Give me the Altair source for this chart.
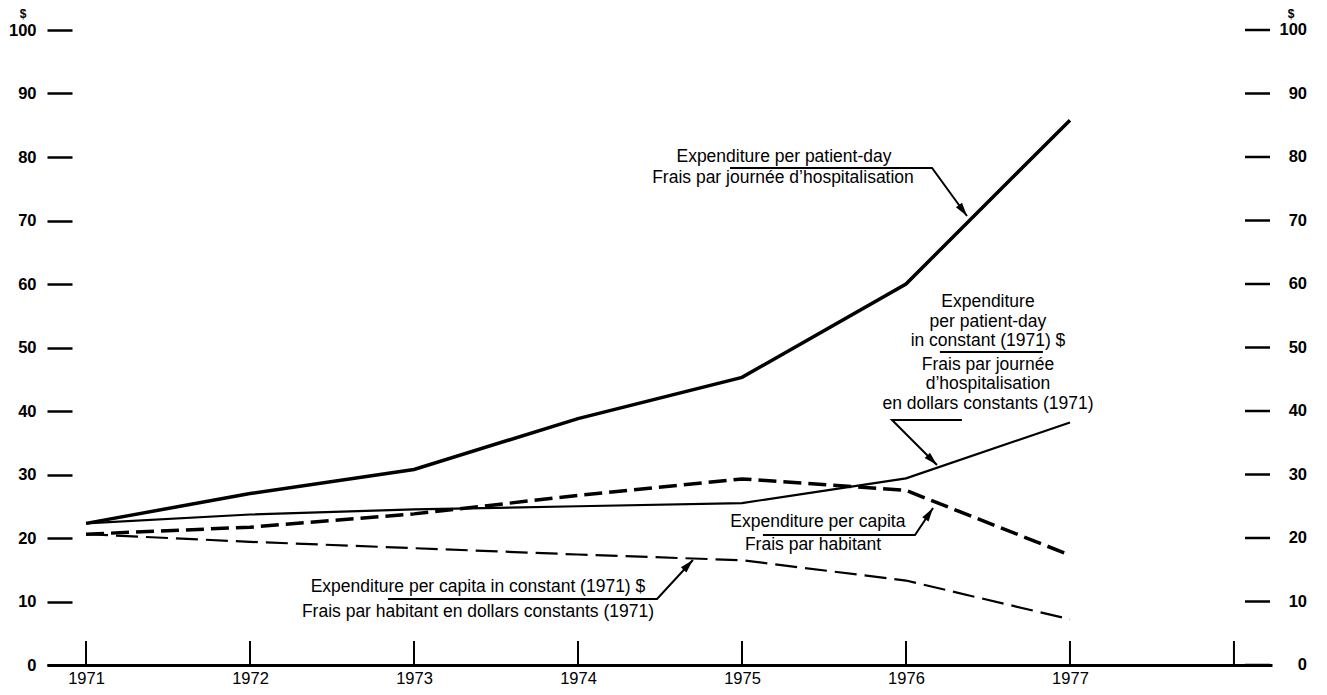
import altair as alt
import pandas as pd

# ---------------- data ----------------
years = [1971, 1972, 1973, 1974, 1975, 1976, 1977]
patient_day = [22.3, 27.0, 30.8, 38.8, 45.3, 60.0, 85.8]
patient_day_const = [22.3, 23.7, 24.5, 25.0, 25.5, 29.4, 38.2]
per_capita = [20.6, 21.7, 23.8, 26.7, 29.3, 27.5, 17.3]
per_capita_const = [20.6, 19.4, 18.4, 17.4, 16.5, 13.3, 7.2]

series_names = ["patient_day", "patient_day_const", "per_capita", "per_capita_const"]
series_values = [patient_day, patient_day_const, per_capita, per_capita_const]

tick_years = [1971, 1972, 1973, 1974, 1975, 1976, 1977, 1978]
year_labels = [1971, 1972, 1973, 1974, 1975, 1976, 1977]
y_ticks = [0, 10, 20, 30, 40, 50, 60, 70, 80, 90, 100]

# annotation texts with their anchor (year, value)
ann_texts = [
    "Expenditure per patient-day",
    "Frais par journée d’hospitalisation",
    "Expenditure",
    "per patient-day",
    "in constant (1971) $",
    "Frais par journée",
    "d’hospitalisation",
    "en dollars constants (1971)",
    "Expenditure per capita",
    "Frais par habitant",
    "Expenditure per capita in constant (1971) $",
    "Frais par habitant en dollars constants (1971)",
]
ann_x = [1975.256, 1975.250, 1976.50, 1976.50, 1976.50, 1976.50, 1976.50, 1976.50,
         1975.463, 1975.433, 1973.390, 1973.390]
ann_y = [80.0, 76.7, 57.17, 54.02, 51.02, 47.24, 44.25, 41.10, 22.52, 18.90, 12.28, 8.35]

# leader lines (group, order, year, value)
lead_group = [1, 1, 1, 2, 2, 3, 3, 3, 4, 4, 4, 5, 5, 5]
lead_order = [0, 1, 2, 0, 1, 0, 1, 2, 0, 1, 2, 0, 1, 2]
lead_x = [1974.927, 1976.159, 1976.372,
          1976.207, 1976.835,
          1976.341, 1975.915, 1976.189,
          1975.128, 1976.055, 1976.165,
          1972.841, 1974.482, 1974.701]
lead_y = [78.27, 78.27, 70.71,
          49.29, 49.29,
          38.58, 38.58, 31.50,
          20.47, 20.47, 24.72,
          10.39, 10.39, 16.54]

# arrow heads (tip year, tip value, direction angle)
arrow_x = [1976.372, 1976.189, 1976.165, 1974.701]
arrow_y = [70.71, 31.50, 24.72, 16.54]
arrow_angle = [144, 135, 34, 43]

# ---------------- frames ----------------
rows = []
for name, vals in zip(series_names, series_values):
    for yr, v in zip(years, vals):
        rows.append({"series": name, "year": yr, "value": v})
df = pd.DataFrame(rows)

df_ticks = pd.DataFrame({"year": tick_years})
df_yt = pd.DataFrame({"v": y_ticks})
df_ann = pd.DataFrame({"text": ann_texts, "year": ann_x, "value": ann_y})
df_lead = pd.DataFrame({"g": lead_group, "o": lead_order, "year": lead_x, "value": lead_y})
df_arrow = pd.DataFrame({"year": arrow_x, "value": arrow_y, "angle": arrow_angle})

FONT = "Liberation Sans, Arial, Helvetica, sans-serif"

xscale = alt.Scale(domain=[1970.762, 1978.232], nice=False, zero=False)
yscale = alt.Scale(domain=[0, 100], nice=False, zero=False)

xaxis = alt.Axis(values=year_labels, format="d", title=None, ticks=False, tickSize=0,
                 grid=False, domain=True, domainColor="black", domainWidth=3,
                 labelFont=FONT, labelFontSize=16.5, labelColor="black", labelPadding=5)
yaxis = alt.Axis(values=y_ticks, title=None, grid=False, domain=False, ticks=True,
                 tickSize=25, tickWidth=2.5, tickColor="black", offset=-25,
                 labelPadding=11, labelFont=FONT, labelFontSize=16.5,
                 labelFontWeight="bold", labelColor="black")


def X(field="year"):
    return alt.X(f"{field}:Q", scale=xscale, axis=xaxis)


def Y(field="value"):
    return alt.Y(f"{field}:Q", scale=yscale, axis=yaxis)


def line_layer(name, width, dash=None):
    kw = dict(color="black", strokeWidth=width, strokeCap="butt")
    if dash:
        kw["strokeDash"] = dash
    return (alt.Chart(df).transform_filter(alt.datum.series == name)
            .mark_line(**kw).encode(x=X(), y=Y()))


lines = [
    line_layer("patient_day", 3.5),
    line_layer("patient_day_const", 2.2),
    line_layer("per_capita", 3.5, [18, 7]),
    line_layer("per_capita_const", 2.2, [22, 8]),
]

year_ticks = alt.Chart(df_ticks).mark_rule(color="black", strokeWidth=2).encode(
    x=X(), y=alt.value(635), y2=alt.value(611))

right_ticks = alt.Chart(df_yt).mark_rule(color="black", strokeWidth=2.5).encode(
    y=Y("v"), x=alt.value(1198), x2=alt.value(1223))
right_labels = alt.Chart(df_yt).mark_text(
    align="right", baseline="middle", font=FONT, fontSize=16.5, fontWeight="bold",
    color="black").encode(y=Y("v"), x=alt.value(1260), text="v:Q")

dollar_df = pd.DataFrame({"t": ["$"]})
dollar_left = alt.Chart(dollar_df).mark_text(
    align="center", baseline="top", font=FONT, fontSize=12, fontWeight="bold",
    color="black").encode(x=alt.value(-24), y=alt.value(-21.5), text="t:N")
dollar_right = alt.Chart(dollar_df).mark_text(
    align="center", baseline="top", font=FONT, fontSize=12, fontWeight="bold",
    color="black").encode(x=alt.value(1244), y=alt.value(-21.5), text="t:N")

ann_text_layer = alt.Chart(df_ann).mark_text(
    align="center", baseline="middle", font=FONT, fontSize=17.5, color="black").encode(
    x=X(), y=Y(), text="text:N")

leaders = alt.Chart(df_lead).mark_line(color="black", strokeWidth=2).encode(
    x=X(), y=Y(), detail="g:N", order="o:Q")

arrows = alt.Chart(df_arrow).mark_point(
    shape="M0,0 L0.5,1.8 L-0.5,1.8 Z", filled=True, size=230, color="black",
    opacity=1, strokeWidth=0).encode(
    x=X(), y=Y(), angle=alt.Angle("angle:Q", scale=None))

chart = alt.layer(
    *lines, year_ticks, right_ticks, right_labels, dollar_left, dollar_right,
    ann_text_layer, leaders, arrows
).properties(
    width=1225, height=635,
    padding={"left": 39, "top": 22, "right": 40, "bottom": 30},
    autosize=alt.AutoSizeParams(type="none"),
    background="white",
).configure_view(stroke=None)

chart.save("out.html", embed_options={"renderer": "svg", "actions": False})
